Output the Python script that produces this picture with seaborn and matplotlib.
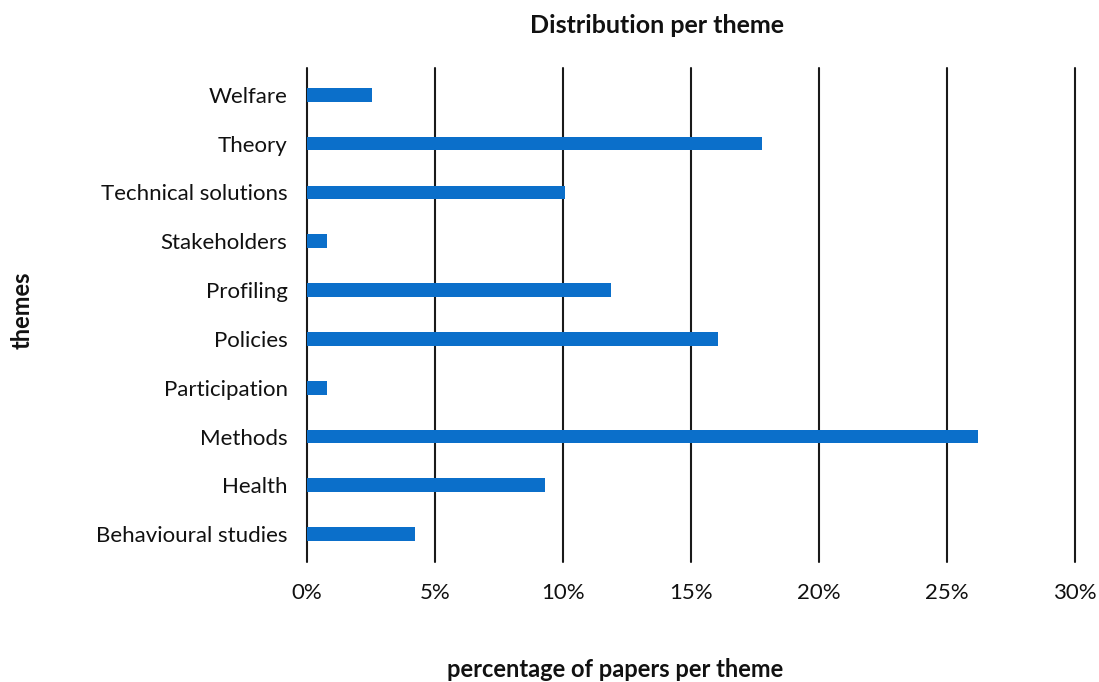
import matplotlib
matplotlib.use("Agg")
import matplotlib.pyplot as plt
from matplotlib.ticker import PercentFormatter
import pandas as pd
import seaborn as sns

themes = [
    "Welfare",
    "Theory",
    "Technical solutions",
    "Stakeholders",
    "Profiling",
    "Policies",
    "Participation",
    "Methods",
    "Health",
    "Behavioural studies",
]
percentages = [2.54, 17.77, 10.08, 0.78, 11.87, 16.05, 0.78, 26.2, 9.3, 4.22]
x_ticks = [0, 5, 10, 15, 20, 25, 30]

df = pd.DataFrame({"theme": themes, "pct": percentages})

sns.set_style("white")
plt.rcParams["font.family"] = ["Lato", "DejaVu Sans"]

fig = plt.figure(figsize=(10.99, 6.82), dpi=100)
ax = fig.add_axes([0.2793, 0.176, 0.6988, 0.7244])

sns.barplot(data=df, x="pct", y="theme", orient="h", color="#0b6fca",
            saturation=1, width=0.28, linewidth=0, ax=ax)

ax.set_xlim(0, 30)
ax.set_ylim(9.57, -0.55)
ax.set_xticks(x_ticks)
ax.xaxis.set_major_formatter(PercentFormatter(decimals=0))
ax.grid(axis="x", color="#1a1a1a", linewidth=1.5)
ax.grid(axis="y", visible=False)
for gl in ax.get_xgridlines():
    gl.set_clip_on(False)
ax.set_axisbelow(True)
for s in ax.spines.values():
    s.set_visible(False)
ax.tick_params(axis="both", length=0, labelsize=16, colors="#111111")
ax.tick_params(axis="x", pad=15)
ax.tick_params(axis="y", pad=14)
ax.set_xlabel("")
ax.set_ylabel("")

fig.text(0.598, 0.962, "Distribution per theme", ha="center", va="center",
         fontsize=18, fontweight="bold", color="#111111")
fig.text(0.56, 0.018, "percentage of papers per theme", ha="center", va="center",
         fontsize=17, fontweight="bold", color="#111111")
fig.text(0.02, 0.545, "themes", ha="center", va="center", rotation=90,
         fontsize=17, fontweight="bold", color="#111111")

plt.savefig("out.png")
